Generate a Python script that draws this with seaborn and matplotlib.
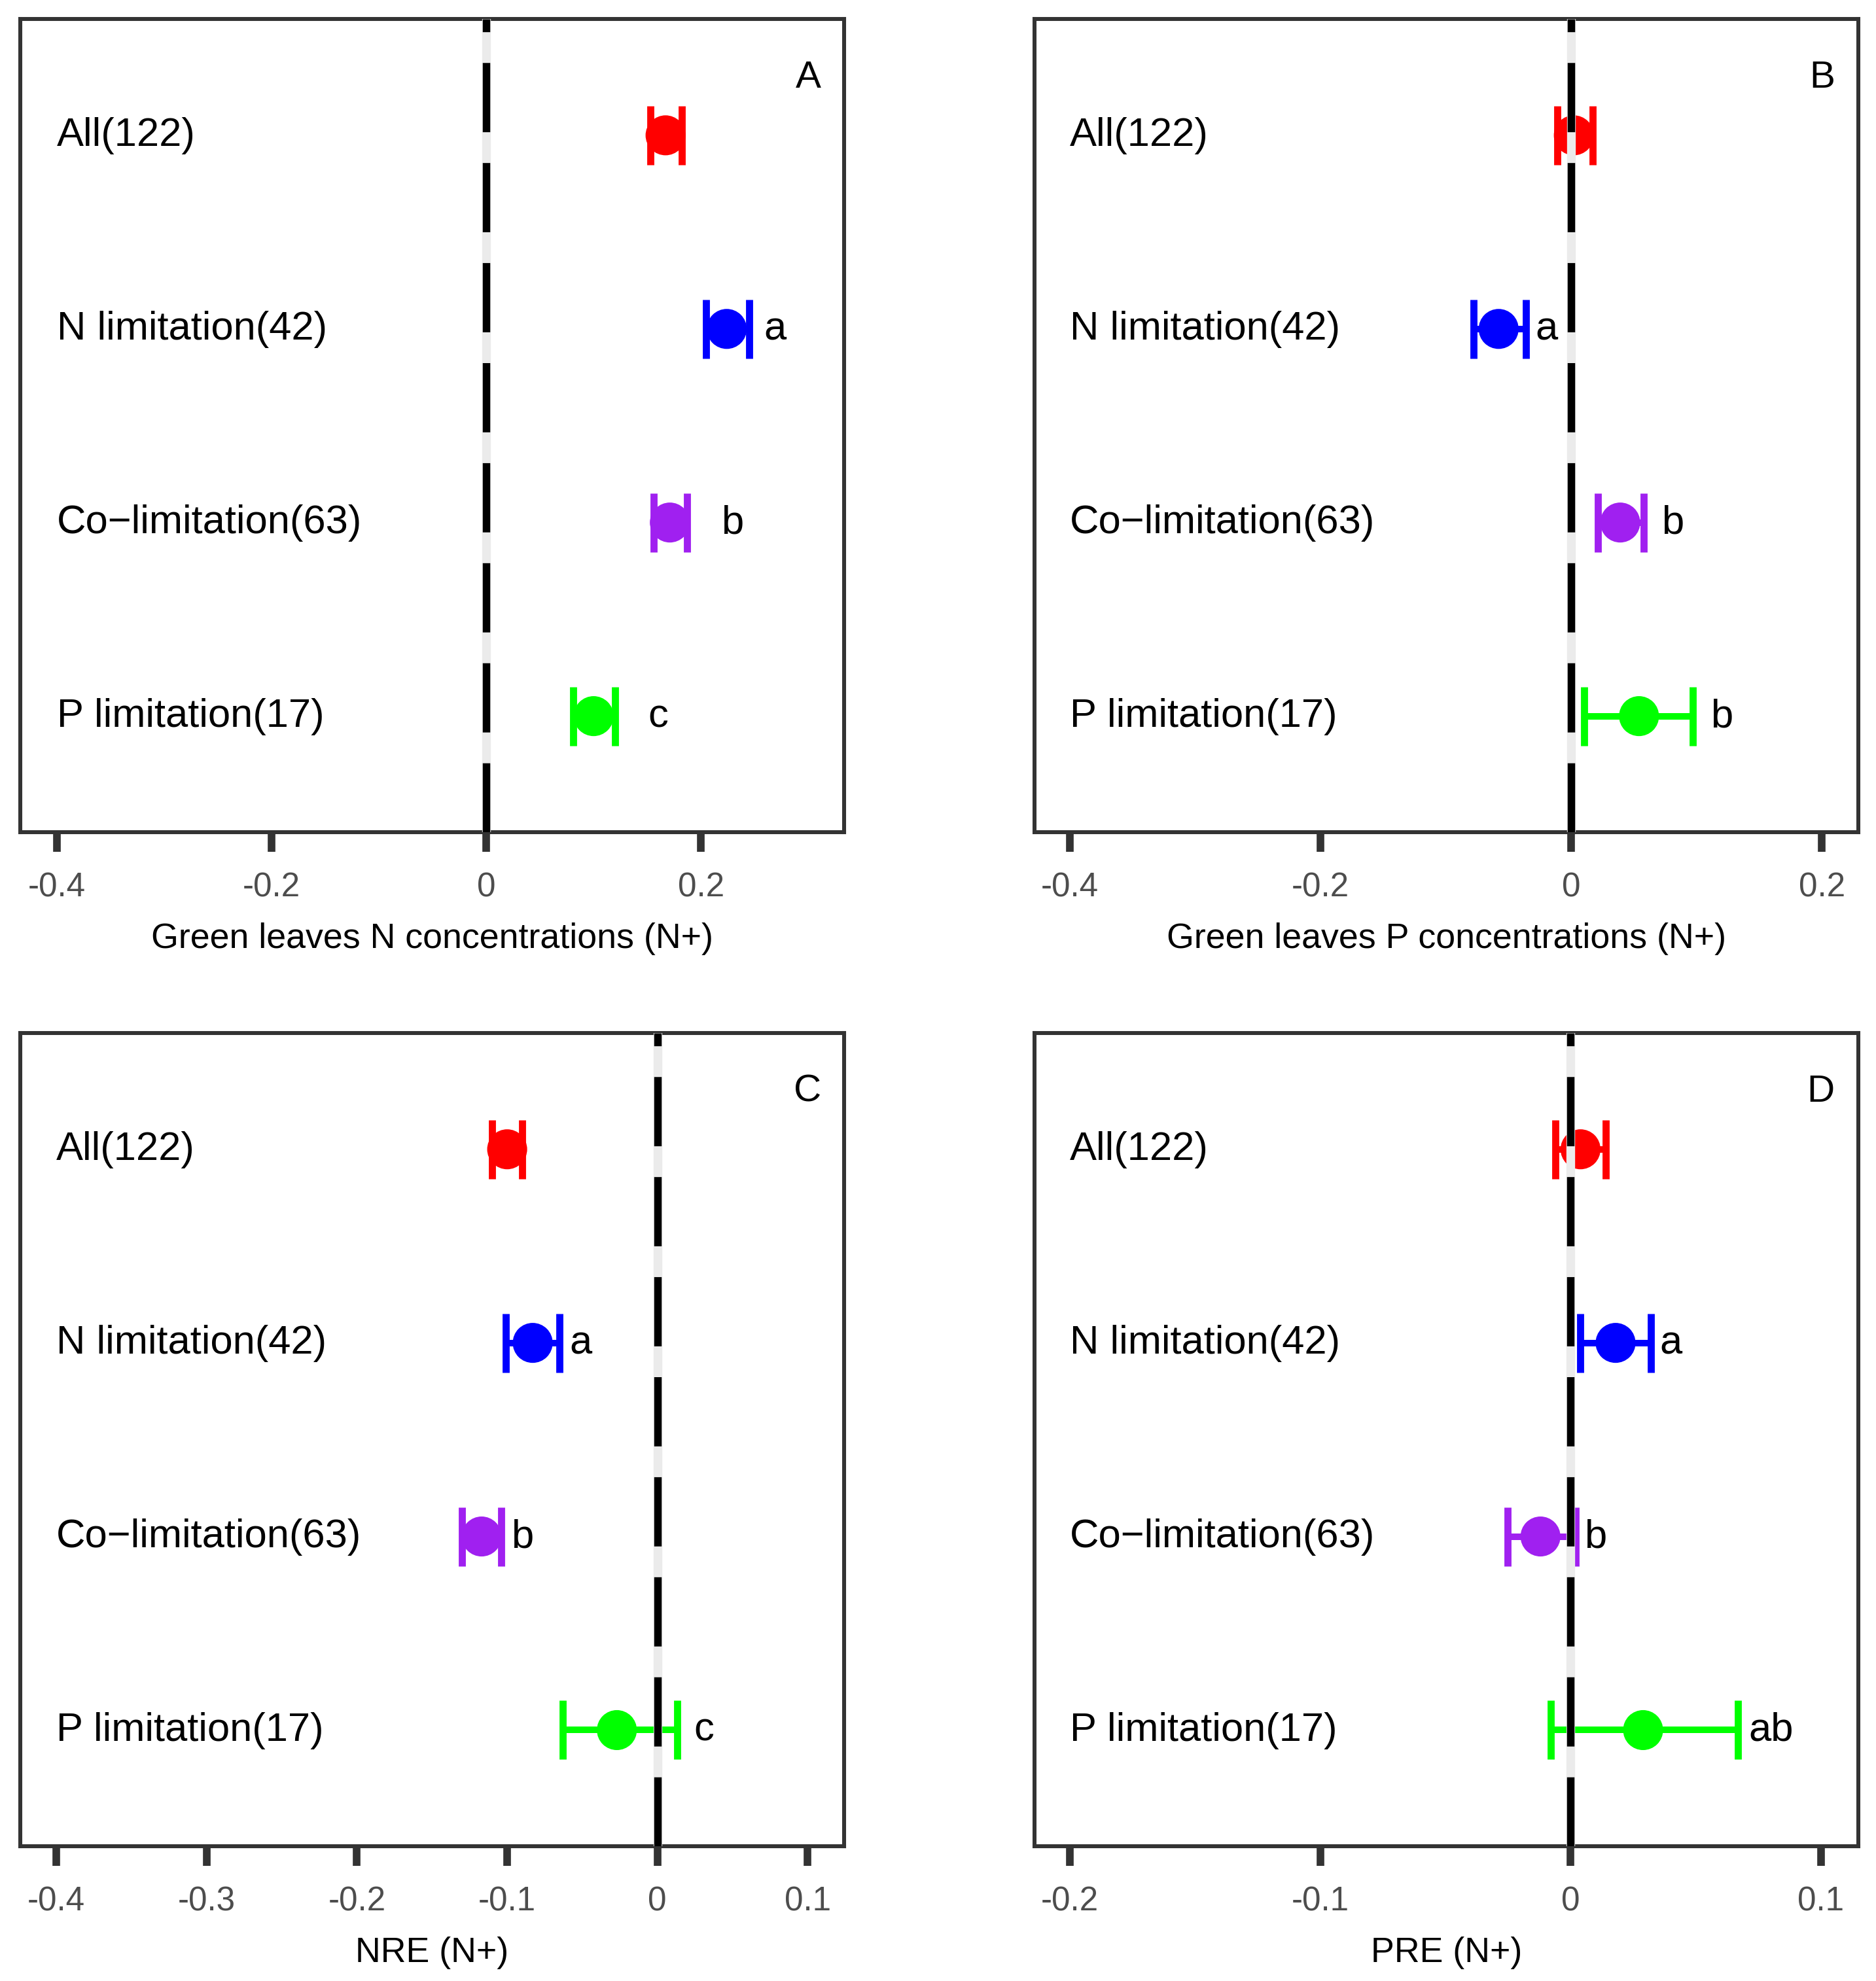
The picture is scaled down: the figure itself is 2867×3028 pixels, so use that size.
import matplotlib
matplotlib.use("Agg")
import matplotlib.pyplot as plt
import pandas as pd
import seaborn as sns

# groups (top to bottom) and their colours
groups = ["All(122)", "N limitation(42)", "Co\u2212limitation(63)", "P limitation(17)"]
group_colors = ["#FF0000", "#0000FF", "#A020F0", "#00FF00"]

# A: green leaves N concentrations
a_mean = [0.167, 0.224, 0.171, 0.100]
a_lo = [0.153, 0.205, 0.156, 0.081]
a_hi = [0.182, 0.245, 0.187, 0.120]
a_letters = ["", "a", "b", "c"]
a_letter_x = [0, 0.269, 0.229, 0.160]

# B: green leaves P concentrations
b_mean = [0.002, -0.058, 0.039, 0.054]
b_lo = [-0.011, -0.078, 0.021, 0.010]
b_hi = [0.017, -0.036, 0.058, 0.097]
b_letters = ["", "a", "b", "b"]
b_letter_x = [0, -0.020, 0.081, 0.120]

# C: NRE
c_mean = [-0.100, -0.083, -0.117, -0.027]
c_lo = [-0.110, -0.101, -0.130, -0.063]
c_hi = [-0.090, -0.065, -0.104, 0.013]
c_letters = ["", "a", "b", "c"]
c_letter_x = [0, -0.051, -0.090, 0.031]

# D: PRE
d_mean = [0.004, 0.018, -0.012, 0.029]
d_lo = [-0.006, 0.004, -0.025, -0.008]
d_hi = [0.014, 0.032, 0.002, 0.067]
d_letters = ["", "a", "b", "ab"]
d_letter_x = [0, 0.040, 0.010, 0.080]

a_ticks = [-0.4, -0.2, 0, 0.2]
a_ticklabels = ["-0.4", "-0.2", "0", "0.2"]
b_ticks = [-0.4, -0.2, 0, 0.2]
b_ticklabels = ["-0.4", "-0.2", "0", "0.2"]
c_ticks = [-0.4, -0.3, -0.2, -0.1, 0, 0.1]
c_ticklabels = ["-0.4", "-0.3", "-0.2", "-0.1", "0", "0.1"]
d_ticks = [-0.2, -0.1, 0, 0.1]
d_ticklabels = ["-0.2", "-0.1", "0", "0.1"]

panels = [
    ("A", "Green leaves N concentrations (N+)", a_mean, a_lo, a_hi, a_letters, a_letter_x,
     a_ticks, a_ticklabels, (-0.434, 0.333), -0.4, 0.3),
    ("B", "Green leaves P concentrations (N+)", b_mean, b_lo, b_hi, b_letters, b_letter_x,
     b_ticks, b_ticklabels, (-0.428, 0.229), -0.4, 0.2),
    ("C", "NRE (N+)", c_mean, c_lo, c_hi, c_letters, c_letter_x,
     c_ticks, c_ticklabels, (-0.424, 0.124), -0.4, 0.1),
    ("D", "PRE (N+)", d_mean, d_lo, d_hi, d_letters, d_letter_x,
     d_ticks, d_ticklabels, (-0.214, 0.115), -0.2, 0.1),
]

sns.set_style("ticks")
plt.rcParams["font.family"] = ["Liberation Sans", "DejaVu Sans"]
plt.rcParams["lines.scale_dashes"] = False

fig, axes = plt.subplots(2, 2, figsize=(2867 / 300, 3029 / 300), dpi=300)
fig.subplots_adjust(left=0.0108, right=0.9906, top=0.990, bottom=0.068,
                    wspace=0.232, hspace=0.247)

palette = dict(zip(groups, group_colors))

for ax, (tag, xlabel, mean, lo, hi, letters, letter_x, ticks, ticklabels,
         xlim, text_x, tag_x) in zip(axes.flat, panels):
    df = pd.DataFrame({"group": groups, "mean": mean, "lo": lo, "hi": hi,
                       "pos": range(len(groups))})

    for i, row in df.iterrows():
        ax.errorbar(row["mean"], row["pos"],
                    xerr=[[row["mean"] - row["lo"]], [row["hi"] - row["mean"]]],
                    fmt="none", ecolor=palette[row["group"]], elinewidth=2.4,
                    capsize=10.8, capthick=2.6, zorder=2)

    sns.scatterplot(data=df, x="mean", y="pos", hue="group", palette=palette,
                    s=215, linewidth=0, legend=False, ax=ax, zorder=3)

    # zero reference line sits on top of the points
    ax.axvline(0, color="#EBEBEB", lw=3.2, zorder=5)
    ax.axvline(0, color="black", lw=2.75, dashes=(25.4, 11.3), zorder=6)

    for i, g in enumerate(groups):
        ax.text(text_x, i, g, ha="left", va="center", fontsize=14.75, color="black")
        if letters[i]:
            ax.text(letter_x[i], i, letters[i], ha="center", va="center",
                    fontsize=14.75, color="black")
    ax.text(tag_x, -0.3, tag, ha="center", va="center", fontsize=14, color="black")

    ax.set_xlim(*xlim)
    ax.set_ylim(3.6, -0.6)
    ax.set_xticks(ticks)
    ax.set_xticklabels(ticklabels)
    ax.set_yticks([])
    ax.set_ylabel("")
    ax.set_xlabel(xlabel, fontsize=12.9, color="black", labelpad=7)
    ax.tick_params(axis="x", direction="out", length=7.2, width=2.8,
                   color="#333333", labelsize=12.3, labelcolor="#4D4D4D", pad=7)
    for sp in ax.spines.values():
        sp.set_visible(True)
        sp.set_color("#333333")
        sp.set_linewidth(1.45)

fig.savefig("out.png", dpi=300, facecolor="white")
